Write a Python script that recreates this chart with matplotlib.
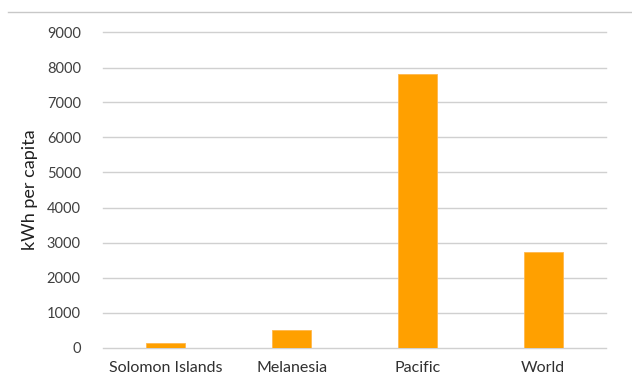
import matplotlib
matplotlib.use("Agg")
import matplotlib.pyplot as plt
from matplotlib.lines import Line2D

categories = ["Solomon Islands", "Melanesia", "Pacific", "World"]
values = [140, 500, 7810, 2720]
yticks = [0, 1000, 2000, 3000, 4000, 5000, 6000, 7000, 8000, 9000]

plt.rcParams['font.family'] = ['Lato', 'DejaVu Sans']

fig = plt.figure(figsize=(6.32, 3.87), dpi=100)
ax = fig.add_axes([103/632, 1-347.5/387, (606-103)/632, (347.5-32.5)/387])

x = range(len(categories))
ax.bar(x, values, width=0.31, color="#FFA000", edgecolor="#FFB84D", linewidth=0.6, zorder=3)
ax.set_xlim(-0.5, len(categories)-0.5)
ax.set_ylim(0, 9000)
ax.set_yticks(yticks)
ax.set_yticklabels([str(v) for v in yticks])
ax.set_xticks(list(x))
ax.set_xticklabels(categories)
ax.grid(axis='y', color="#d0d0d0", linewidth=1.0, zorder=0)
for gl in ax.get_ygridlines():
    gl.set_clip_on(False)
ax.set_axisbelow(True)
for s in ax.spines.values():
    s.set_visible(False)
ax.tick_params(axis='y', length=0, pad=16, labelsize=10.5, labelcolor="#404040")
ax.tick_params(axis='x', length=0, pad=10, labelsize=11.5, labelcolor="#303030")
ax.set_ylabel("kWh per capita", fontsize=13, color="#202020", labelpad=6)

fig.add_artist(Line2D([8/632, 1], [1-12/387, 1-12/387], color="#c8c8c8", linewidth=1.0))

fig.savefig("out.png", dpi=100)
